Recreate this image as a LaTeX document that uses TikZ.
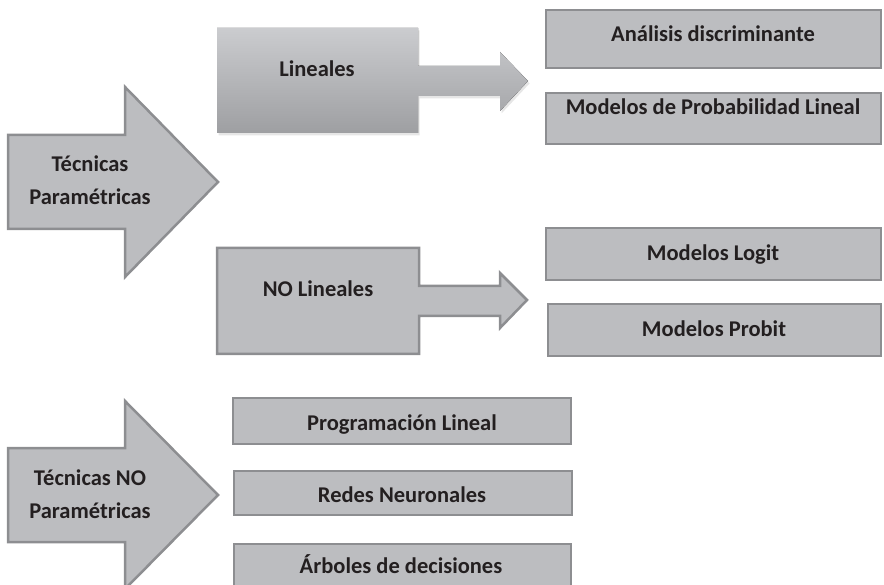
\documentclass[tikz,border=0pt]{standalone}
\usepackage{fontspec}
\setmainfont{Carlito}
\usetikzlibrary{shadows}
\definecolor{grisrelleno}{RGB}{188,189,192}
\definecolor{grisborde}{RGB}{141,142,145}
\definecolor{grisclaro}{RGB}{203,204,207}
\definecolor{grisoscuro}{RGB}{158,159,162}
\definecolor{textooscuro}{RGB}{35,31,32}
\tikzset{
	caja/.style={fill=grisrelleno, draw=grisborde, line width=2.5pt, line join=miter},
	texto/.style={font=\fontsize{22.5}{33}\selectfont\bfseries, text=textooscuro, inner sep=0pt, align=center}
}
\begin{document}
\begin{tikzpicture}[x=1pt,y=-1pt]
	\useasboundingbox (0,0) rectangle (884,585);
	\clip (0,0) rectangle (884,585);
	% flechas grandes
	\draw[caja] (8,135) -- (125,135) -- (125,87) -- (218,182) -- (125,277) -- (125,229) -- (8,229) -- cycle;
	\draw[caja] (8,448) -- (125,448) -- (125,401) -- (218,495) -- (125,589) -- (125,542) -- (8,542) -- cycle;
	% Lineales
	\fill[top color=grisclaro, bottom color=grisoscuro, drop shadow={opacity=0.2, shadow xshift=1.5pt, shadow yshift=-2.5pt}] (217,28) -- (418,28) -- (418,66) -- (500,66) -- (500,52) -- (528,81) -- (500,111) -- (500,96) -- (418,96) -- (418,133) -- (217,133) -- cycle;
	% NO Lineales
	\draw[caja] (217,248) -- (419,248) -- (419,286) -- (500,286) -- (500,273) -- (527,300) -- (500,328) -- (500,316) -- (419,316) -- (419,354) -- (217,354) -- cycle;
	% cajas
	\draw[caja] (546,10) rectangle (881,68);
	\draw[caja] (546,93) rectangle (881,144);
	\draw[caja] (546,228) rectangle (881,280);
	\draw[caja] (548,304) rectangle (881,356);
	\draw[caja] (233,398) rectangle (571,444);
	\draw[caja] (234,471) rectangle (572,515);
	\draw[caja] (234,544) rectangle (571,590);
	
	\node[texto] (tp) at (90,180) {Técnicas\\Paramétricas};
	\node[texto] (tnp) at (90,494) {Técnicas NO\\Paramétricas};
	\node[texto, anchor=base] (lin) at (317,77) {Lineales};
	\node[texto, anchor=base] (nolin) at (318,297) {NO Lineales};
	\node[texto, anchor=base] (ad) at (713,42) {Análisis discriminante};
	\node[texto, anchor=base] (mpl) at (713,115) {Modelos de Probabilidad Lineal};
	\node[texto, anchor=base] (logit) at (713,261) {Modelos Logit};
	\node[texto, anchor=base] (probit) at (714,337) {Modelos Probit};
	\node[texto, anchor=base] (pl) at (402,430) {Programación Lineal};
	\node[texto, anchor=base] (rn) at (402,502) {Redes Neuronales};
	\node[texto, anchor=base] (ar) at (401,573) {Árboles de decisiones};
\end{tikzpicture}
\end{document}
